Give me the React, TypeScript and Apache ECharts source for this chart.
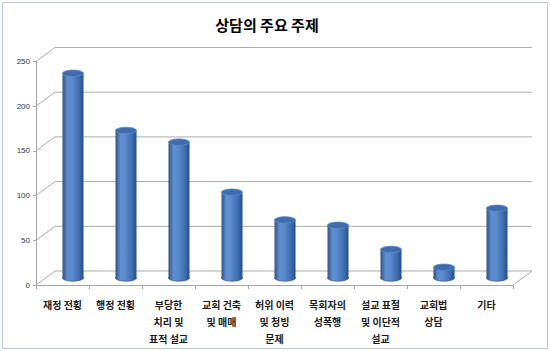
import React, { useEffect, useRef } from "react";
import * as echarts from "echarts";

const categories = [
  "재정 전횡",
  "행정 전횡",
  "부당한\n치리 및\n표적 설교",
  "교회 건축\n및 매매",
  "허위 이력\n및 청빙\n문제",
  "목회자의\n성폭행",
  "설교 표절\n및 이단적\n설교",
  "교회법\n상담",
  "기타",
];
const values = [229, 165, 152, 96, 65, 59, 32, 12, 78];
const yTicks = [0, 50, 100, 150, 200, 250];
const title = "상담의 주요 주제";

const DX = 19;
const DY = -14;
const KR = "'Noto Sans CJK KR', 'Noto Sans', sans-serif";

export default function App() {
  const ref = useRef<HTMLDivElement>(null);
  useEffect(() => {
    if (!ref.current) return;
    const chart = echarts.init(ref.current, null, { renderer: "svg" });
    const bodyGrad = new echarts.graphic.LinearGradient(0, 0, 1, 0, [
      { offset: 0, color: "#2c5590" },
      { offset: 0.25, color: "#5f91d2" },
      { offset: 0.45, color: "#5a8bcd" },
      { offset: 0.8, color: "#3e6cab" },
      { offset: 1, color: "#284d83" },
    ]);
    chart.setOption({
      animation: false,
      backgroundColor: "#ffffff",
      title: {
        text: title,
        left: 262,
        textAlign: "center",
        top: 12,
        textStyle: { fontFamily: KR, fontSize: 15, fontWeight: "bold", color: "#000" },
      },
      graphic: [
        {
          type: "rect",
          shape: { x: 2.5, y: 2.5, width: 545, height: 346 },
          style: { fill: "none", stroke: "#b7cadd", lineWidth: 1 },
          silent: true,
        },
      ],
      grid: { left: 36, right: 37, top: 61.5, bottom: 66 },
      xAxis: {
        type: "category",
        data: categories,
        boundaryGap: true,
        axisLine: { show: true, lineStyle: { color: "#a6a6a6", width: 1 } },
        axisTick: { show: true, interval: 0, length: 4, lineStyle: { color: "#a6a6a6" } },
        axisLabel: {
          interval: 0,
          margin: 11,
          fontFamily: KR,
          fontSize: 10,
          fontWeight: "bold",
          color: "#1a1a1a",
          lineHeight: 17,
        },
      },
      yAxis: {
        type: "value",
        min: 0,
        max: 250,
        interval: 50,
        axisLine: { show: true, lineStyle: { color: "#a6a6a6" } },
        axisTick: { show: true, length: 3, lineStyle: { color: "#a6a6a6" } },
        axisLabel: { fontFamily: "Arial, 'Liberation Sans', sans-serif", fontSize: 8, color: "#333", margin: 6 },
        splitLine: { show: false },
      },
      series: [
        {
          type: "custom",
          silent: true,
          z: 1,
          clip: false,
          data: yTicks.map((v) => [0, v]),
          encode: { x: 0, y: 1 },
          renderItem: (params: any, api: any) => {
            const v = api.value(1);
            const p = api.coord([0, v]);
            const cs = params.coordSys;
            const x0 = cs.x;
            const x1 = cs.x + cs.width;
            const y = p[1];
            const children: any[] = [
              {
                type: "polyline",
                shape: { points: [[x0, y], [x0 + DX, y + DY], [x1 + DX, y + DY]] },
                style: { stroke: "#ababab", lineWidth: 1, fill: "none" },
              },
            ];
            if (v === 0) {
              children.push({
                type: "line",
                shape: { x1: x1, y1: y, x2: x1 + DX, y2: y + DY },
                style: { stroke: "#ababab", lineWidth: 1 },
              });
            }
            return { type: "group", children };
          },
        },
        {
          type: "custom",
          z: 3,
          clip: false,
          data: values.map((v, i) => [i, v]),
          encode: { x: 0, y: 1 },
          renderItem: (params: any, api: any) => {
            const i = api.value(0);
            const v = api.value(1);
            const top = api.coord([i, v]);
            const bot = api.coord([i, 0]);
            const cx = top[0] + 10.5;
            const ty = top[1] + DY / 2;
            const by = bot[1] + DY / 2;
            const rx = 10.5;
            const ry = 3.2;
            return {
              type: "group",
              children: [
                {
                  type: "ellipse",
                  shape: { cx, cy: by, rx, ry },
                  style: { fill: bodyGrad, stroke: "#2a4f86", lineWidth: 0.6 },
                },
                {
                  type: "rect",
                  shape: { x: cx - rx, y: ty, width: rx * 2, height: Math.max(0, by - ty) },
                  style: { fill: bodyGrad },
                },
                {
                  type: "ellipse",
                  shape: { cx, cy: ty, rx, ry },
                  style: { fill: "#3f6cae", stroke: "#5d8bcb", lineWidth: 0.8 },
                },
              ],
            };
          },
        },
      ],
    });
    return () => chart.dispose();
  }, []);
  return (
    <div
      ref={ref}
      style={{ position: "fixed", left: 0, top: 0, width: 550, height: 351 }}
    />
  );
}
